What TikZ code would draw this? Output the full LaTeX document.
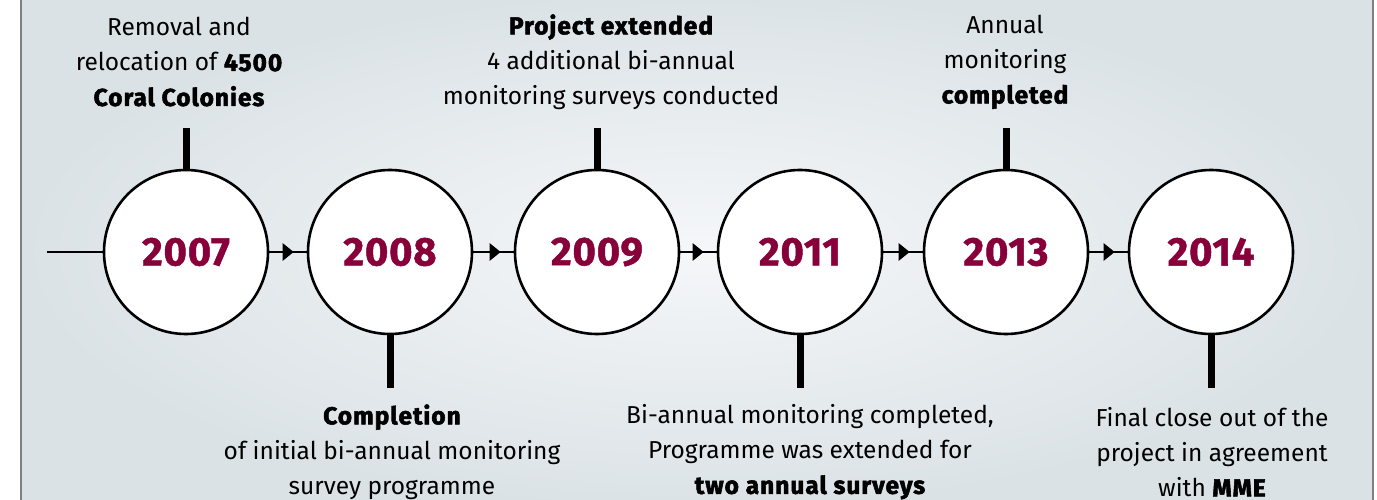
\documentclass[tikz,border=0pt]{standalone}
\usepackage{fontspec}
\setmainfont{Fira Sans}
\newfontfamily\heavyfont{Fira Sans}[BoldFeatures={FakeBold=2.2,LetterSpace=4}]
\newfontfamily\yearfont{Fira Sans}[BoldFeatures={FakeBold=1.2,LetterSpace=2}]
\usetikzlibrary{arrows.meta}
\definecolor{yearred}{HTML}{88003A}
\definecolor{bgout}{HTML}{DBE2E6}
\definecolor{bgin}{HTML}{F5F7F9}
\newcommand{\hv}[1]{{\heavyfont\bfseries #1}}
\begin{document}
\begin{tikzpicture}[x=1pt,y=-1pt,
  yearcircle/.style={circle, draw=black, line width=2.6, fill=white, minimum size=164, inner sep=0pt,
    font=\fontsize{40}{40}\yearfont\bfseries, text=yearred},
  ticklinestyle/.style={line width=7},
  timeline/.style={line width=2.6},
  arrowtip/.style={line width=2.6, -{Triangle[length=11,width=17]}},
  desc/.style={align=center, font=\fontsize{24.5}{35}\selectfont, text=black, inner sep=0pt}]
\useasboundingbox (0,0) rectangle (1377,500);
\fill[white] (0,0) rectangle (1377,500);
\shade[inner color=bgin, outer color=bgout] (21,-10) rectangle (1373,510);
\draw[gray, line width=1.5] (21,-10) -- (21,510);
\draw[gray, line width=1.5] (1373,-10) -- (1373,510);

\node[yearcircle] (y2007) at (186,252) {2007};
\node[yearcircle] (y2008) at (390,252) {2008};
\node[yearcircle] (y2009) at (597,252) {2009};
\node[yearcircle] (y2011) at (800,252) {2011};
\node[yearcircle] (y2013) at (1006,252) {2013};
\node[yearcircle] (y2014) at (1211,252) {2014};

\coordinate (start) at (47,252);
\draw[timeline] (start) -- (y2007.west);
\foreach \a/\b in {y2007/y2008, y2008/y2009, y2009/y2011, y2011/y2013, y2013/y2014}{
  \draw[timeline] (\a.east) -- (\b.west);
  \draw[arrowtip] (\a.east) -- ([xshift=-13]\b.west);
}

\coordinate (t2007) at (186,128);
\coordinate (t2009) at (597,128);
\coordinate (t2013) at (1006,128);
\coordinate (b2008) at (390,388);
\coordinate (b2011) at (800,388);
\coordinate (b2014) at (1211,388);
\draw[ticklinestyle] (t2007) -- (y2007.north);
\draw[ticklinestyle] (t2009) -- (y2009.north);
\draw[ticklinestyle] (t2013) -- (y2013.north);
\draw[ticklinestyle] (y2008.south) -- (b2008);
\draw[ticklinestyle] (y2011.south) -- (b2011);
\draw[ticklinestyle] (y2014.south) -- (b2014);

\node[desc] (d2007) at (179,62) {Removal and\\relocation of \hv{4500}\\\hv{Coral Colonies}};
\node[desc] (d2009) at (611,62) {\hv{Project extended}\\4 additional bi-annual\\monitoring surveys conducted};
\node[desc] (d2013) at (1005,62) {Annual\\monitoring\\\hv{completed}};
\node[desc] (d2008) at (392,452) {\hv{Completion}\\of initial bi-annual monitoring\\survey programme};
\node[desc] (d2011) at (810,452) {Bi-annual monitoring completed,\\Programme was extended for\\\hv{two annual surveys}};
\node[desc] (d2014) at (1212,452) {Final close out of the\\project in agreement\\with \hv{MME}};
\end{tikzpicture}
\end{document}
